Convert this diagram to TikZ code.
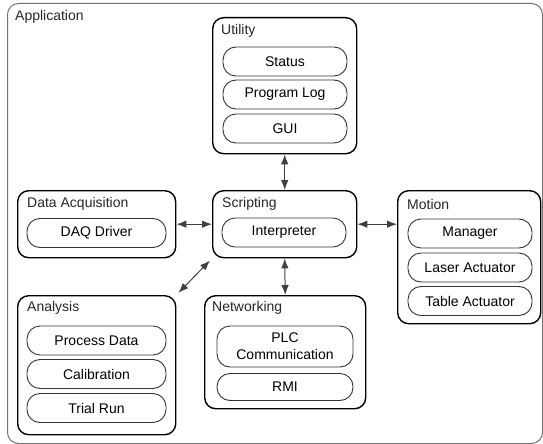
\documentclass[tikz,border=0pt]{standalone}
\usepackage{fontspec}
\setmainfont{Liberation Sans}
\usetikzlibrary{positioning, arrows.meta}

\begin{document}
\begin{tikzpicture}[x=1pt, y=-1pt,
  group/.style={draw=black, line width=1.4pt, rounded corners=11pt, anchor=north west, inner sep=0pt},
  part/.style={draw=black!80, line width=0.9pt, rounded corners=13pt, minimum height=29pt, inner sep=0pt, font=\fontsize{14}{17}\selectfont, align=center},
  title/.style={anchor=west, inner sep=0pt, font=\fontsize{14}{17}\selectfont, text=black!85},
  link/.style={{Latex[length=10pt,width=7.5pt]}-{Latex[length=10pt,width=7.5pt]}, line width=1pt, draw=black!75}]
\useasboundingbox (0,0) rectangle (543,444);

% outer frame
\node[group, draw=black!55, line width=1pt, minimum width=535pt, minimum height=440pt] (app) at (7,3) {};
\node[title] (appT) at (15,17) {Application};

% groups
\node[group, minimum width=144pt, minimum height=136pt] (util) at (212,17) {};
\node[group, minimum width=144pt, minimum height=67pt] (script) at (212,190) {};
\node[group, minimum width=158pt, minimum height=67pt] (daq) at (17,190) {};
\node[group, minimum width=158pt, minimum height=139pt] (analysis) at (17,295) {};
\node[group, minimum width=161pt, minimum height=113pt] (net) at (204,295) {};
\node[group, minimum width=143pt, minimum height=133pt] (motion) at (397,190) {};

\node[title] (utilT) at (221,31) {Utility};
\node[title] (scriptT) at (222,204) {Scripting};
\node[title] (daqT) at (27,204) {Data Acquisition};
\node[title] (analysisT) at (27,308) {Analysis};
\node[title] (netT) at (212,308) {Networking};
\node[title] (motionT) at (407,204) {Motion};

% parts
\node[part, minimum width=124pt] (status) at (285,61.5) {Status};
\node[part, minimum width=124pt] (log) at (285,94.5) {Program Log};
\node[part, minimum width=124pt] (gui) at (285,128.5) {GUI};

\node[part, minimum width=124pt] (interp) at (284,232.5) {Interpreter};

\node[part, minimum width=139pt] (driver) at (96.5,233) {DAQ Driver};

\node[part, minimum width=139pt] (process) at (96.5,340.5) {Process Data};
\node[part, minimum width=139pt] (calib) at (96.5,374) {Calibration};
\node[part, minimum width=139pt] (trial) at (96.5,408) {Trial Run};

\node[part, minimum width=136pt, minimum height=41pt] (plc) at (285,346.5) {PLC\\Communication};
\node[part, minimum width=136pt, minimum height=27pt] (rmi) at (285,387) {RMI};

\node[part, minimum width=124pt] (manager) at (470,233.5) {Manager};
\node[part, minimum width=124pt] (laser) at (470,267.5) {Laser Actuator};
\node[part, minimum width=124pt] (table) at (470,301) {Table Actuator};

% links
\draw[link] (util.south) -- (script.north);
\draw[link] (daq.east) -- (script.west);
\draw[link] (script.east) -- (script.east -| motion.west);
\draw[link] (script.south) -- (net.north);
\draw[link, shorten <=3pt, shorten >=3pt] (analysis.north east) -- (script.south west);
\end{tikzpicture}
\end{document}
